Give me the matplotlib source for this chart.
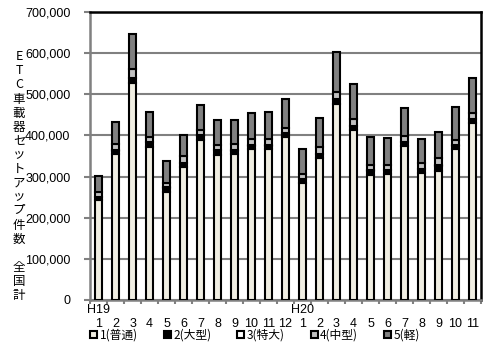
import numpy as np
import matplotlib
matplotlib.use("Agg")
import matplotlib.pyplot as plt

plt.rcParams['font.family'] = ['Liberation Sans', 'Noto Sans CJK JP', 'DejaVu Sans']

# months: H19/1 .. H20/11
months = ['1', '2', '3', '4', '5', '6', '7', '8', '9', '10', '11', '12',
          '1', '2', '3', '4', '5', '6', '7', '8', '9', '10', '11']
eras = {0: 'H19', 12: 'H20'}

series_names = ['1(普通)', '2(大型)', '3(特大)', '4(中型)', '5(軽)']
futsu = [243000, 354000, 528000, 373000, 263000, 324000, 390000, 352000, 354000, 366000, 366000, 397000,
         284000, 346000, 477000, 413000, 304000, 306000, 375000, 309000, 314000, 366000, 431000]
ogata = [7000, 9000, 11000, 10000, 10000, 9000, 9000, 12000, 9000, 9000, 9000, 9000,
         9000, 9000, 11000, 9000, 10000, 10000, 9000, 9000, 12000, 9000, 9000]
tokudai = [1000, 1000, 1500, 1000, 1000, 1000, 1000, 1000, 1000, 1000, 1000, 1000,
           1000, 1000, 1500, 1000, 1000, 1000, 1000, 1000, 1000, 1000, 1000]
chugata = [11000, 14000, 21000, 13000, 10000, 15000, 14000, 11000, 14000, 15000, 15000, 12000,
           13000, 15000, 17000, 17000, 13000, 12000, 13000, 13000, 19000, 13000, 13000]
kei = [40000, 54000, 84000, 60000, 54000, 52000, 60000, 62000, 60000, 64000, 66000, 70000,
       60000, 72000, 97000, 84000, 69000, 64000, 69000, 59000, 63000, 81000, 86000]

colors = ['#F0EEE2', '#000000', '#FFFFFF', '#C0C0C0', '#808080']

ylabel_chars = ['E', 'T', 'C', '車', '載', '器', 'セ', 'ッ', 'ト', 'ア', 'ッ', 'プ',
                '件', '数', ' ', '全', '国', '計']

fig = plt.figure(figsize=(4.92, 3.62), dpi=100)
ax = fig.add_axes([90 / 492, 1 - 300 / 362, 391 / 492, 288 / 362])

x = np.arange(len(months))
bottom = np.zeros(len(months))
handles = []
for vals, col, name in zip([futsu, ogata, tokudai, chugata, kei], colors, series_names):
    b = ax.bar(x, vals, width=0.42, bottom=bottom, color=col, edgecolor='black',
               linewidth=1.5, label=name, zorder=3)
    handles.append(b)
    bottom += np.array(vals)

ax.set_xlim(-0.5, len(months) - 0.5)
ax.set_ylim(0, 700000)
ax.set_yticks(np.arange(0, 700001, 100000))
ax.set_yticklabels(['{:,}'.format(v) for v in range(0, 700001, 100000)], fontsize=9)
ax.yaxis.grid(True, color='#808080', linewidth=1.5, zorder=0)

labels = [(eras[i] + '\n' if i in eras else '\n') + m for i, m in enumerate(months)]
ax.set_xticks(x)
ax.set_xticklabels(labels, fontsize=9, linespacing=1.2)
ax.set_xticks(np.arange(-0.5, len(months)), minor=True)
ax.tick_params(axis='x', which='major', length=0, pad=3)
ax.tick_params(axis='x', which='minor', length=3, color='#808080', width=1.5)
ax.tick_params(axis='y', length=4, color='#808080', width=1.5, pad=10)

for s in ['left', 'bottom']:
    ax.spines[s].set_color('#808080')
    ax.spines[s].set_linewidth(1.8)
for s in ['top', 'right']:
    ax.spines[s].set_color('black')
    ax.spines[s].set_linewidth(1.8)

for i, ch in enumerate(ylabel_chars):
    fig.text(19 / 492, 1 - (57 + 14 * i) / 362, ch, fontsize=9,
             ha='center', va='center', family=['Noto Sans CJK JP', 'DejaVu Sans'])

fig.legend(handles=handles, labels=series_names, loc='center left',
           bbox_to_anchor=(90 / 492, 1 - 335 / 362), ncol=5, frameon=False,
           handlelength=0.6, handleheight=0.6, handletextpad=0.2,
           columnspacing=2.2, borderaxespad=0, borderpad=0,
           prop={'family': ['Noto Sans CJK JP', 'DejaVu Sans'], 'size': 8.5})

fig.savefig('out.png', dpi=100)
